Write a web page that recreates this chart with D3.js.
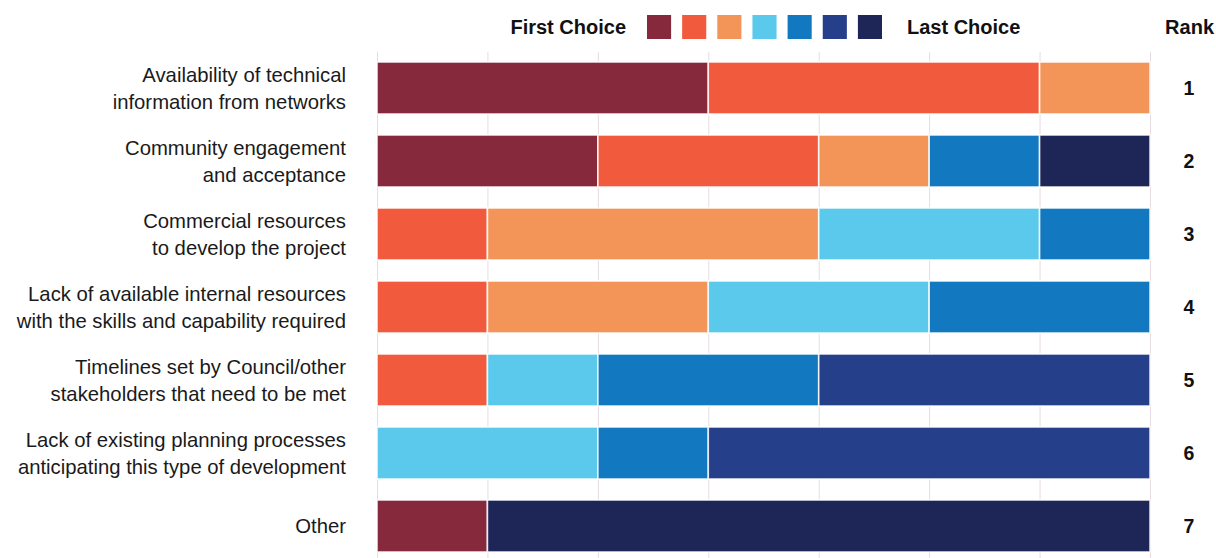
<!DOCTYPE html>
<html>
<head>
<meta charset="utf-8">
<script src="https://cdn.jsdelivr.net/npm/d3@7"></script>
<style>
  html, body { margin: 0; padding: 0; background: #fff; }
  svg { display: block; font-family: "Liberation Sans", Arial, Helvetica, sans-serif; }
</style>
</head>
<body>
<svg id="chart" width="1216" height="558"></svg>
<script>
// Barriers ranked from first to last choice (number of respondents per rank position)
const categories = [
  ["Availability of technical", "information from networks"],
  ["Community engagement", "and acceptance"],
  ["Commercial resources", "to develop the project"],
  ["Lack of available internal resources", "with the skills and capability required"],
  ["Timelines set by Council/other", "stakeholders that need to be met"],
  ["Lack of existing planning processes", "anticipating this type of development"],
  ["Other"]
];
const ranks = [1, 2, 3, 4, 5, 6, 7];

const choiceKeys = ["c1", "c2", "c3", "c4", "c5", "c6", "c7"];
const choice1 = [3, 2, 0, 0, 0, 0, 1];
const choice2 = [3, 2, 1, 1, 1, 0, 0];
const choice3 = [1, 1, 3, 2, 0, 0, 0];
const choice4 = [0, 0, 2, 2, 1, 2, 0];
const choice5 = [0, 1, 1, 2, 2, 1, 0];
const choice6 = [0, 0, 0, 0, 3, 4, 0];
const choice7 = [0, 1, 0, 0, 0, 0, 6];
const gridTicks = [0, 1, 2, 3, 4, 5, 6, 7];

const colors = ["#86293d", "#f15a3c", "#f39559", "#5bc9eb", "#1279c0", "#263f8a", "#1e2657"];

const series = [choice1, choice2, choice3, choice4, choice5, choice6, choice7];
const rows = categories.map((c, i) => {
  const r = { id: i, label: c, rank: ranks[i] };
  choiceKeys.forEach((k, j) => { r[k] = series[j][i]; });
  return r;
});

const svg = d3.select("#chart");

const x = d3.scaleLinear().domain([0, 7]).range([377, 1150]);
const y = d3.scaleBand()
  .domain(rows.map(d => d.id))
  .range([62, 552])
  .paddingInner(21 / 73)
  .paddingOuter(0);

// vertical grid
svg.append("g")
  .selectAll("line")
  .data(gridTicks)
  .join("line")
  .attr("x1", d => x(d) + 0.5)
  .attr("x2", d => x(d) + 0.5)
  .attr("y1", 52)
  .attr("y2", 558)
  .attr("stroke", "#e6dce2")
  .attr("stroke-width", 1);

// stacked bars
const stacked = d3.stack().keys(choiceKeys)(rows);
svg.append("g")
  .selectAll("g")
  .data(stacked)
  .join("g")
  .attr("fill", (d, i) => colors[i])
  .selectAll("rect")
  .data(d => d.filter(s => s[1] - s[0] > 0))
  .join("rect")
  .attr("x", d => x(d[0]))
  .attr("width", d => x(d[1]) - x(d[0]))
  .attr("y", d => y(d.data.id))
  .attr("height", y.bandwidth())
  .attr("stroke", "#fff")
  .attr("stroke-opacity", 0.85)
  .attr("stroke-width", 1.6);

// category labels
const lineH = 27;
svg.append("g")
  .selectAll("text")
  .data(rows)
  .join("text")
  .attr("text-anchor", "end")
  .attr("font-size", 20.3)
  .attr("fill", "#1a1a1a")
  .each(function (d) {
    const cy = y(d.id) + y.bandwidth() / 2;
    const n = d.label.length;
    d3.select(this).selectAll("tspan")
      .data(d.label)
      .join("tspan")
      .attr("x", 346)
      .attr("y", (t, i) => cy + (i - (n - 1) / 2) * lineH)
      .attr("dy", "0.36em")
      .text(t => t);
  });

// rank numbers
svg.append("g")
  .selectAll("text")
  .data(rows)
  .join("text")
  .attr("x", 1189)
  .attr("y", d => y(d.id) + y.bandwidth() / 2)
  .attr("dy", "0.36em")
  .attr("text-anchor", "middle")
  .attr("font-size", 19.5)
  .attr("font-weight", "bold")
  .attr("fill", "#111")
  .text(d => d.rank);

// header: legend and rank title
const header = svg.append("g").attr("font-weight", "bold").attr("font-size", 20).attr("fill", "#111");
header.append("text").attr("x", 626).attr("y", 27).attr("dy", "0.36em").attr("text-anchor", "end").text("First Choice");
header.append("text").attr("x", 907).attr("y", 27).attr("dy", "0.36em").text("Last Choice");
header.append("text").attr("x", 1214).attr("y", 27).attr("dy", "0.36em").attr("text-anchor", "end").text("Rank");

const sw = d3.scaleBand().domain(choiceKeys).range([647, 882]).paddingInner(11 / 35).paddingOuter(0);
svg.append("g")
  .selectAll("rect")
  .data(choiceKeys)
  .join("rect")
  .attr("x", d => sw(d))
  .attr("y", 15)
  .attr("width", sw.bandwidth())
  .attr("height", 24)
  .attr("fill", (d, i) => colors[i]);
</script>
</body>
</html>
